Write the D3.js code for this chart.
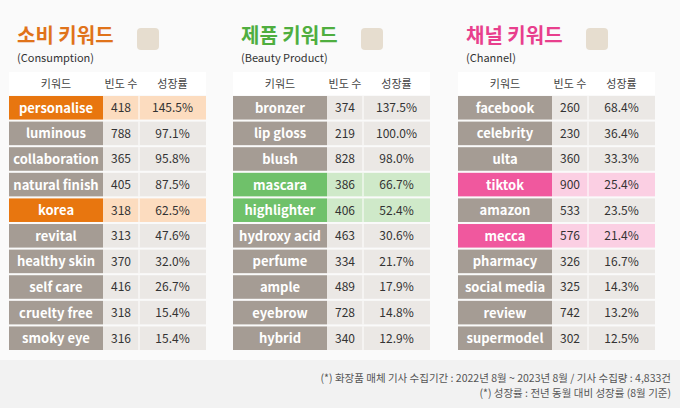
<!DOCTYPE html>
<html><head><meta charset="utf-8">
<script src="https://cdn.jsdelivr.net/npm/d3@7"></script>
<style>body{margin:0;background:#f2f2f2}svg{display:block}</style>
</head><body><svg id="c" width="680" height="408"></svg>
<script>
const consumeKw = ["personalise","luminous","collaboration","natural finish","korea","revital","healthy skin","self care","cruelty free","smoky eye"];
const consumeFreq = [418,788,365,405,318,313,370,416,318,316];
const consumeGrowth = ["145.5%","97.1%","95.8%","87.5%","62.5%","47.6%","32.0%","26.7%","15.4%","15.4%"];
const consumeHi = [0,4];
const productKw = ["bronzer","lip gloss","blush","mascara","highlighter","hydroxy acid","perfume","ample","eyebrow","hybrid"];
const productFreq = [374,219,828,386,406,463,334,489,728,340];
const productGrowth = ["137.5%","100.0%","98.0%","66.7%","52.4%","30.6%","21.7%","17.9%","14.8%","12.9%"];
const productHi = [3,4];
const channelKw = ["facebook","celebrity","ulta","tiktok","amazon","mecca","pharmacy","social media","review","supermodel"];
const channelFreq = [260,230,360,900,533,576,326,325,742,302];
const channelGrowth = ["68.4%","36.4%","33.3%","25.4%","23.5%","21.4%","16.7%","14.3%","13.2%","12.5%"];
const channelHi = [3,5];
const headers = ["키워드","빈도 수","성장률"];
const notes = ["(*) 화장품 매체 기사 수집기간 : 2022년 8월 ~ 2023년 8월 / 기사 수집량 : 4,833건","(*) 성장률 : 전년 동월 대비 성장률 (8월 기준)"];

const svg = d3.select("#c");
const font = "'Noto Sans CJK KR','Noto Sans',sans-serif";
svg.append("rect").attr("width",680).attr("height",360).attr("fill","#fafafa");

const tables = [
  {x:9, title:"소비 키워드", sub:"(Consumption)", kw:consumeKw, f:consumeFreq, g:consumeGrowth, hi:consumeHi, c:"#e8760f", light:"#fcdcbf", tc:"#e0731a"},
  {x:233, title:"제품 키워드", sub:"(Beauty Product)", kw:productKw, f:productFreq, g:productGrowth, hi:productHi, c:"#6fc16a", light:"#cfe9c9", tc:"#4fae3f"},
  {x:458, title:"채널 키워드", sub:"(Channel)", kw:channelKw, f:channelFreq, g:channelGrowth, hi:channelHi, c:"#f0589e", light:"#fbcfe3", tc:"#e83f8d"}
];
const cols = [0,94,130,197];
const y = d3.scaleBand().domain(d3.range(10)).range([96,350]).paddingInner(0.08);

tables.forEach(t => {
  const g = svg.append("g").attr("transform",`translate(${t.x},0)`);
  g.append("text").attr("x",8).attr("y",43).text(t.title).attr("font-family",font).attr("font-weight",700).attr("font-size",20).attr("fill",t.tc);
  g.append("text").attr("x",8).attr("y",62).text(t.sub).attr("font-family",font).attr("font-size",11).attr("fill","#333");
  g.append("rect").attr("x",128).attr("y",28).attr("width",22).attr("height",22).attr("rx",4).attr("fill","#e6ddcf");
  g.append("rect").attr("x",0).attr("y",72).attr("width",cols[3]).attr("height",23).attr("fill","#fff");
  headers.forEach((h,i) => g.append("text").attr("x",(cols[i]+cols[i+1])/2).attr("y",88).attr("text-anchor","middle")
    .text(h).attr("font-family",font).attr("font-size",11).attr("fill","#444"));
  const rows = g.selectAll("g.r").data(t.kw).join("g").attr("transform",(d,i)=>`translate(0,${y(i)})`);
  rows.append("rect").attr("width",cols[1]).attr("height",y.bandwidth()).attr("fill",(d,i)=>t.hi.includes(i)?t.c:"#a59c94");
  rows.append("rect").attr("x",cols[1]).attr("width",cols[3]-cols[1]).attr("height",y.bandwidth()).attr("fill",(d,i)=>t.hi.includes(i)?t.light:"#ebe8e5");
  rows.append("line").attr("x1",cols[2]).attr("x2",cols[2]).attr("y2",y.bandwidth()).attr("stroke","#fff").attr("stroke-width",1);
  rows.append("text").attr("x",cols[1]/2).attr("y",y.bandwidth()/2+5).attr("text-anchor","middle").text(d=>d)
    .attr("font-family",font).attr("font-weight",700).attr("font-size",13).attr("fill","#fff");
  rows.append("text").attr("x",(cols[1]+cols[2])/2).attr("y",y.bandwidth()/2+4.5).attr("text-anchor","middle").text((d,i)=>t.f[i])
    .attr("font-family",font).attr("font-size",12).attr("fill","#333");
  rows.append("text").attr("x",(cols[2]+cols[3])/2).attr("y",y.bandwidth()/2+4.5).attr("text-anchor","middle").text((d,i)=>t.g[i])
    .attr("font-family",font).attr("font-size",12).attr("fill","#333");
});
notes.forEach((n,i)=>svg.append("text").attr("x",671).attr("y",382+i*15).attr("text-anchor","end").text(n)
  .attr("font-family",font).attr("font-size",10.5).attr("fill","#555"));
</script></body></html>
